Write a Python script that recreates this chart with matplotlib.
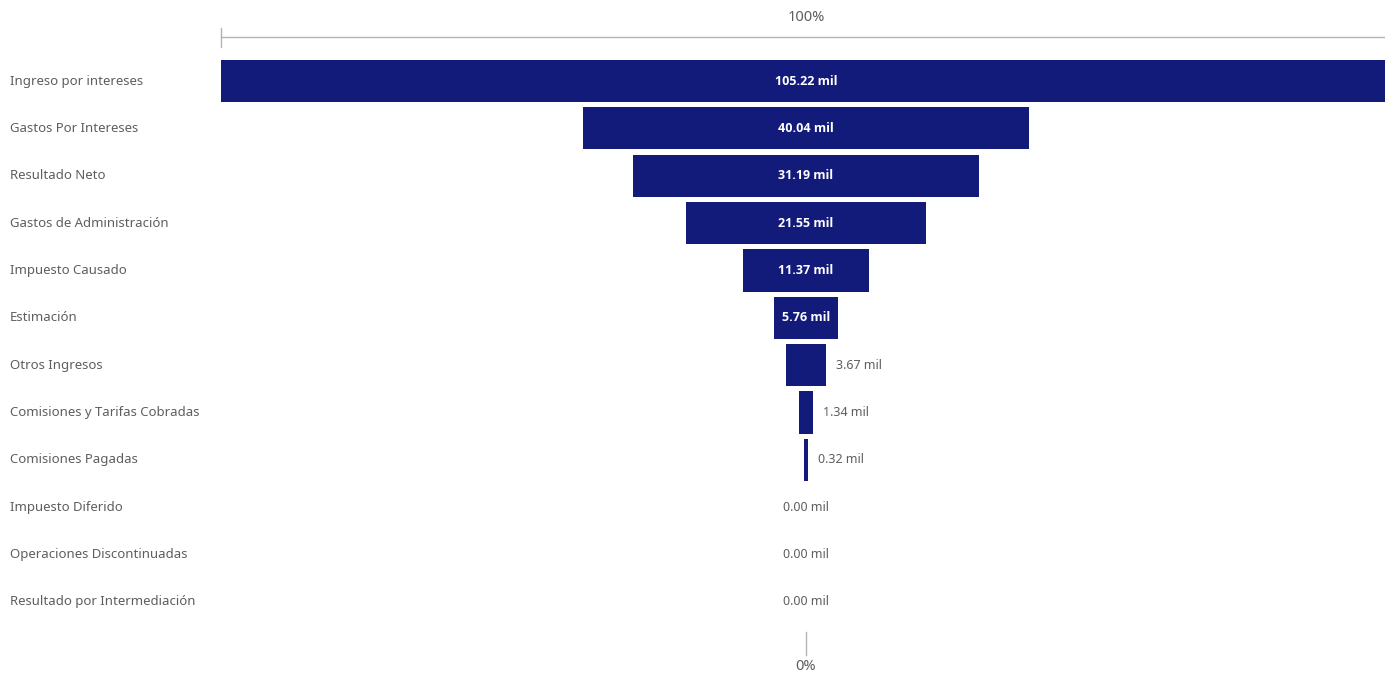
import matplotlib
matplotlib.use("Agg")
import matplotlib.pyplot as plt
from matplotlib.transforms import blended_transform_factory

categories = [
    "Ingreso por intereses",
    "Gastos Por Intereses",
    "Resultado Neto",
    "Gastos de Administración",
    "Impuesto Causado",
    "Estimación",
    "Otros Ingresos",
    "Comisiones y Tarifas Cobradas",
    "Comisiones Pagadas",
    "Impuesto Diferido",
    "Operaciones Discontinuadas",
    "Resultado por Intermediación",
]
values = [105.22, 40.04, 31.19, 21.55, 11.37, 5.76, 3.67, 1.34, 0.32, 0.00, 0.00, 0.00]
value_labels = [f"{v:.2f} mil" for v in values]
top_label = "100%"
bottom_label = "0%"

BAR_COLOR = "#131B7A"
TEXT_GRAY = "#605E5C"
LINE_GRAY = "#B3B3B3"
FONT = ["Noto Sans", "DejaVu Sans"]
BOLD_FONT = ["Open Sans", "DejaVu Sans"]

W, H, DPI = 1385, 674, 100
fig = plt.figure(figsize=(W / DPI, H / DPI), dpi=DPI)
fig.patch.set_facecolor("white")

ax_left = 221 / W
ax = fig.add_axes([ax_left, 0, 1 - ax_left, 1])
ax.set_axis_off()

vmax = max(values)
half = vmax / 2
px_per_unit = 585 / half          # pixels per data unit along x
center_px = 806
ax.set_xlim(-half, (W - center_px) / px_per_unit)

row_px = 47.36
first_px = 81
ax.set_ylim((H - first_px) / row_px, -first_px / row_px)

n = len(values)
ypos = list(range(n))
ax.barh(ypos, values, left=[-v / 2 for v in values],
        height=0.89, color=BAR_COLOR, edgecolor="none")

label_tr = blended_transform_factory(fig.transFigure, ax.transData)
for y, cat in zip(ypos, categories):
    ax.text(10 / W, y, cat, transform=label_tr, ha="left", va="center",
            fontsize=9.5, color=TEXT_GRAY, family=FONT)

for y, v, lab in zip(ypos, values, value_labels):
    bar_px = v * px_per_unit
    if bar_px > 58:
        ax.text(0, y, lab, ha="center", va="center", fontsize=9,
                color="white", fontweight="bold", family=BOLD_FONT)
    elif v == 0:
        ax.text(0, y, lab, ha="center", va="center", fontsize=9,
                color=TEXT_GRAY, family=FONT)
    else:
        ax.text(v / 2 + 10 / px_per_unit, y, lab, ha="left", va="center",
                fontsize=9, color=TEXT_GRAY, family=FONT)

# top reference line (100%)
y_top_line = (37 - first_px) / row_px
ax.plot([-half, ax.get_xlim()[1]], [y_top_line, y_top_line], color=LINE_GRAY,
        lw=1, clip_on=False)
ax.plot([-half, -half], [(28 - first_px) / row_px, (47 - first_px) / row_px],
        color=LINE_GRAY, lw=1, clip_on=False)
ax.text(0, (17 - first_px) / row_px, top_label, ha="center", va="center",
        fontsize=10.5, color=TEXT_GRAY, family=FONT)

# bottom reference line (0%)
ax.plot([0, 0], [(632 - first_px) / row_px, (655 - first_px) / row_px],
        color=LINE_GRAY, lw=1, clip_on=False)
ax.text(0, (667 - first_px) / row_px, bottom_label, ha="center", va="center",
        fontsize=10.5, color=TEXT_GRAY, family=FONT)

fig.savefig("out.png", dpi=DPI, facecolor="white")
